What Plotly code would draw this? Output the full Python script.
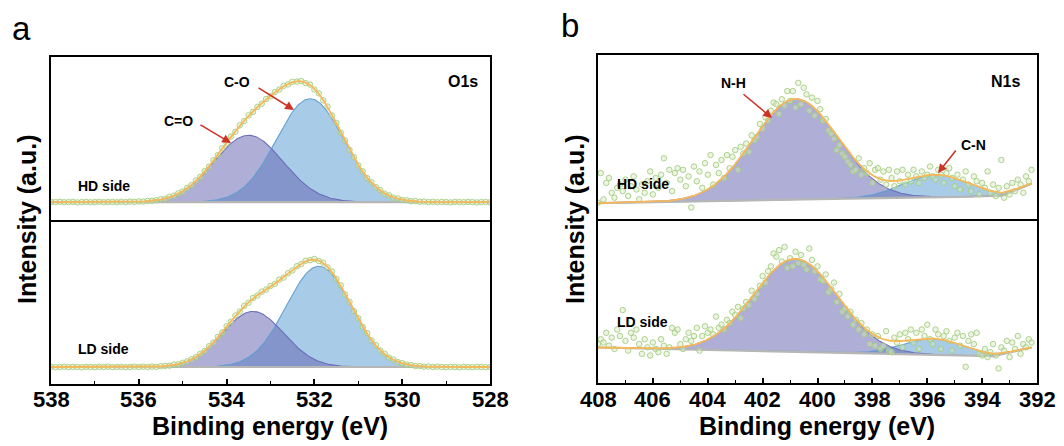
import numpy as np
import plotly.graph_objects as go

# ---------------------------------------------------------------- O1s spectra
# measured intensities, 538.0 eV down to 528.0 eV in 0.1 eV steps
o1s_start, o1s_step = 538.0, -0.1
o1s_hd_counts = [
    0.111, 0.110, 0.112, 0.109, 0.110, 0.111, 0.108, 0.110, 0.111, 0.109,
    0.110, 0.112, 0.109, 0.110, 0.111, 0.109, 0.112, 0.110, 0.113, 0.111,
    0.114, 0.113, 0.117, 0.118, 0.121, 0.127, 0.131, 0.142, 0.149, 0.164,
    0.175, 0.197, 0.214, 0.243, 0.265, 0.300, 0.327, 0.367, 0.398, 0.440,
    0.471, 0.512, 0.541, 0.581, 0.607, 0.642, 0.663, 0.694, 0.713, 0.742,
    0.759, 0.785, 0.800, 0.823, 0.832, 0.848, 0.849, 0.853, 0.840, 0.831,
    0.801, 0.777, 0.734, 0.696, 0.641, 0.595, 0.536, 0.487, 0.430, 0.386,
    0.335, 0.299, 0.257, 0.232, 0.201, 0.183, 0.161, 0.151, 0.137, 0.132,
    0.123, 0.121, 0.115, 0.116, 0.112, 0.113, 0.110, 0.112, 0.109, 0.111,
    0.110, 0.108, 0.111, 0.110, 0.109, 0.111, 0.110, 0.108, 0.110, 0.111,
    0.109,
]
o1s_ld_counts = [
    0.106, 0.104, 0.105, 0.107, 0.104, 0.106, 0.105, 0.103, 0.106, 0.105,
    0.104, 0.106, 0.105, 0.107, 0.104, 0.105, 0.106, 0.104, 0.105, 0.107,
    0.105, 0.107, 0.105, 0.108, 0.106, 0.110, 0.112, 0.113, 0.120, 0.122,
    0.131, 0.139, 0.153, 0.165, 0.187, 0.204, 0.233, 0.256, 0.291, 0.318,
    0.357, 0.385, 0.423, 0.447, 0.482, 0.502, 0.531, 0.546, 0.570, 0.583,
    0.605, 0.618, 0.644, 0.657, 0.684, 0.701, 0.727, 0.740, 0.761, 0.764,
    0.772, 0.759, 0.749, 0.720, 0.694, 0.648, 0.609, 0.553, 0.507, 0.450,
    0.406, 0.352, 0.314, 0.269, 0.240, 0.207, 0.187, 0.163, 0.151, 0.135,
    0.129, 0.120, 0.117, 0.111, 0.111, 0.107, 0.108, 0.105, 0.107, 0.105,
    0.104, 0.106, 0.105, 0.103, 0.106, 0.105, 0.104, 0.106, 0.105, 0.104,
    0.105,
]
# fitted components: centre (eV), FWHM (eV), height
o1s_names = ["C=O", "C-O"]
o1s_hd_centres, o1s_hd_fwhm, o1s_hd_heights = [533.5, 532.1], [1.85, 1.80], [0.410, 0.634]
o1s_ld_centres, o1s_ld_fwhm, o1s_ld_heights = [533.4, 531.9], [1.65, 1.74], [0.343, 0.622]
# background knots (eV, intensity)
o1s_hd_bg_x, o1s_hd_bg_y = [538.0, 528.0], [0.110, 0.110]
o1s_ld_bg_x, o1s_ld_bg_y = [538.0, 528.0], [0.105, 0.105]
o1s_ticks = [538, 536, 534, 532, 530, 528]

# ---------------------------------------------------------------- N1s spectra
# measured intensities, 408.0 eV down to 392.2 eV in 0.1 eV steps
n1s_start, n1s_step = 408.0, -0.1
n1s_hd_counts = [
    0.10, 0.28, 0.12, 0.22, 0.25, 0.16, 0.13, 0.19, 0.21, 0.17,
    0.24, 0.14, 0.20, 0.26, 0.18, 0.12, 0.21, 0.16, 0.23, 0.29,
    0.15, 0.25, 0.19, 0.27, 0.37, 0.22, 0.30, 0.17, 0.28, 0.31,
    0.24, 0.30, 0.20, 0.26, 0.07, 0.32, 0.23, 0.29, 0.19, 0.34,
    0.27, 0.39, 0.21, 0.33, 0.28, 0.36, 0.25, 0.39, 0.31, 0.38,
    0.42, 0.30, 0.44, 0.40, 0.46, 0.41, 0.51, 0.48, 0.50, 0.58,
    0.55, 0.62, 0.60, 0.66, 0.71, 0.70, 0.64, 0.73, 0.69, 0.78,
    0.72, 0.78, 0.68, 0.83, 0.70, 0.80, 0.76, 0.66, 0.74, 0.63,
    0.72, 0.67, 0.60, 0.61, 0.54, 0.52, 0.49, 0.42, 0.45, 0.40,
    0.38, 0.35, 0.33, 0.29, 0.30, 0.37, 0.27, 0.31, 0.28, 0.34,
    0.22, 0.30, 0.31, 0.24, 0.29, 0.21, 0.30, 0.25, 0.20, 0.29,
    0.23, 0.30, 0.21, 0.27, 0.23, 0.30, 0.26, 0.22, 0.29, 0.25,
    0.27, 0.32, 0.26, 0.24, 0.30, 0.27, 0.22, 0.28, 0.31, 0.25,
    0.20, 0.27, 0.18, 0.24, 0.29, 0.21, 0.17, 0.26, 0.23, 0.15,
    0.22, 0.19, 0.29, 0.16, 0.21, 0.14, 0.19, 0.36, 0.13, 0.20,
    0.15, 0.22, 0.17, 0.24, 0.21, 0.16, 0.26, 0.23, 0.30,
]
n1s_ld_counts = [
    0.24, 0.27, 0.25, 0.31, 0.23, 0.28, 0.21, 0.33, 0.29, 0.45,
    0.26, 0.20, 0.31, 0.28, 0.33, 0.24, 0.18, 0.27, 0.22, 0.17,
    0.25, 0.21, 0.19, 0.27, 0.23, 0.18, 0.22, 0.34, 0.31, 0.33,
    0.24, 0.21, 0.27, 0.31, 0.26, 0.29, 0.34, 0.20, 0.29, 0.35,
    0.31, 0.33, 0.30, 0.41, 0.34, 0.36, 0.33, 0.39, 0.37, 0.44,
    0.42, 0.47, 0.40, 0.46, 0.50, 0.48, 0.57, 0.52, 0.55, 0.60,
    0.66, 0.62, 0.69, 0.72, 0.80, 0.78, 0.82, 0.75, 0.84, 0.71,
    0.77, 0.72, 0.81, 0.74, 0.79, 0.73, 0.70, 0.83, 0.76, 0.69,
    0.72, 0.64, 0.63, 0.67, 0.56, 0.58, 0.62, 0.50, 0.55, 0.44,
    0.46, 0.41, 0.44, 0.36, 0.39, 0.33, 0.37, 0.30, 0.33, 0.24,
    0.30, 0.23, 0.29, 0.21, 0.23, 0.32, 0.20, 0.19, 0.28, 0.25,
    0.30, 0.22, 0.31, 0.27, 0.33, 0.25, 0.31, 0.21, 0.33, 0.29,
    0.36, 0.27, 0.24, 0.33, 0.30, 0.21, 0.29, 0.32, 0.26, 0.20,
    0.28, 0.31, 0.23, 0.29, 0.10, 0.26, 0.30, 0.24, 0.31, 0.18,
    0.17, 0.21, 0.16, 0.19, 0.24, 0.17, 0.09, 0.22, 0.20, 0.26,
    0.16, 0.25, 0.21, 0.29, 0.18, 0.24, 0.22, 0.27, 0.25,
]
n1s_names = ["N-H", "C-N"]
n1s_hd_centres, n1s_hd_fwhm, n1s_hd_heights = [400.8, 395.7], [3.64, 2.83], [0.614, 0.135]
n1s_ld_centres, n1s_ld_fwhm, n1s_ld_heights = [400.8, 395.8], [3.60, 2.59], [0.574, 0.098]
n1s_hd_bg_x, n1s_hd_bg_y = [392.2, 393.3, 408.0], [0.215, 0.140, 0.097]
n1s_ld_bg_x, n1s_ld_bg_y = [392.2, 393.6, 408.0], [0.219, 0.166, 0.219]
n1s_ticks = [408, 406, 404, 402, 400, 398, 396, 394, 392]

# ---------------------------------------------------------------- styling
FONT = "Liberation Sans, Arial, sans-serif"
W, H = 1064, 446
COMP_FILL = ["rgba(96,96,175,0.51)", "rgba(110,170,215,0.60)"]
COMP_LINE = ["rgba(105,105,185,0.95)", "rgba(95,158,210,0.95)"]
ENVELOPE = "rgb(246,184,88)"
BASELINE = "rgb(182,182,182)"
ARROW = "rgb(205,52,40)"


def gauss(x, centre, fwhm, height):
    return height * np.exp(-4 * np.log(2) * (x - centre) ** 2 / fwhm ** 2)


def px(xp, yp):
    return xp / W, 1 - yp / H


fig = go.Figure()

# subplot plot areas in pixels: (x0, x1, y_top, y_bottom); the stacked pair
# leaves a 2 px gap so both frame lines fall on the same row
spectra = [
    dict(frame=(51, 490, 57, 220), start=o1s_start, step=o1s_step, counts=o1s_hd_counts,
         centres=o1s_hd_centres, fwhm=o1s_hd_fwhm, heights=o1s_hd_heights,
         bg=(o1s_hd_bg_x, o1s_hd_bg_y), xr=[538, 528], ticks=o1s_ticks, bottom=False),
    dict(frame=(51, 490, 222, 384), start=o1s_start, step=o1s_step, counts=o1s_ld_counts,
         centres=o1s_ld_centres, fwhm=o1s_ld_fwhm, heights=o1s_ld_heights,
         bg=(o1s_ld_bg_x, o1s_ld_bg_y), xr=[538, 528], ticks=o1s_ticks, bottom=True),
    dict(frame=(598, 1037, 55, 219), start=n1s_start, step=n1s_step, counts=n1s_hd_counts,
         centres=n1s_hd_centres, fwhm=n1s_hd_fwhm, heights=n1s_hd_heights,
         bg=(n1s_hd_bg_x, n1s_hd_bg_y), xr=[408, 392], ticks=n1s_ticks, bottom=False),
    dict(frame=(598, 1037, 221, 383), start=n1s_start, step=n1s_step, counts=n1s_ld_counts,
         centres=n1s_ld_centres, fwhm=n1s_ld_fwhm, heights=n1s_ld_heights,
         bg=(n1s_ld_bg_x, n1s_ld_bg_y), xr=[408, 392], ticks=n1s_ticks, bottom=True),
]

annotations = []
layout_axes = {}
for k, s in enumerate(spectra, start=1):
    xa, ya = f"x{k}", f"y{k}"
    n = len(s["counts"])
    x_meas = s["start"] + s["step"] * np.arange(n)
    x_fit = np.linspace(x_meas[0], x_meas[-1], 500)
    bg_x = np.array(s["bg"][0])
    bg_y = np.array(s["bg"][1])
    order = np.argsort(bg_x)
    base = np.interp(x_fit, bg_x[order], bg_y[order])
    comps = [gauss(x_fit, c, w, h) for c, w, h in zip(s["centres"], s["fwhm"], s["heights"])]

    # component areas (second component first so the first sits on top)
    for i in (1, 0):
        top = base + comps[i]
        fig.add_trace(go.Scatter(
            x=np.concatenate([x_fit, x_fit[::-1]]),
            y=np.concatenate([top, base[::-1]]),
            fill="toself", fillcolor=COMP_FILL[i], mode="lines",
            line=dict(width=0), xaxis=xa, yaxis=ya, hoverinfo="skip"))
    for i in (1, 0):
        fig.add_trace(go.Scatter(
            x=x_fit, y=base + comps[i], mode="lines",
            line=dict(color=COMP_LINE[i], width=1.1), xaxis=xa, yaxis=ya))
    fig.add_trace(go.Scatter(x=x_fit, y=base, mode="lines",
                             line=dict(color=BASELINE, width=2.2), xaxis=xa, yaxis=ya))
    fig.add_trace(go.Scatter(
        x=x_meas, y=s["counts"], mode="markers",
        marker=dict(symbol="circle", size=5.5, color="rgba(214,232,190,0.45)",
                    line=dict(color="rgba(160,203,125,0.85)", width=1)),
        xaxis=xa, yaxis=ya))
    fig.add_trace(go.Scatter(x=x_fit, y=base + comps[0] + comps[1], mode="lines",
                             line=dict(color=ENVELOPE, width=1.8), xaxis=xa, yaxis=ya))

    x0, x1, yt, yb = s["frame"]
    xaxis = dict(domain=[x0 / W, x1 / W], range=s["xr"], anchor=ya, automargin=False,
                 showline=True, linecolor="black", linewidth=2, mirror=True,
                 showgrid=False, zeroline=False, showticklabels=False)
    if s["bottom"]:
        xaxis.update(tickmode="array", tickvals=s["ticks"],
                     ticks="inside", ticklen=5, tickwidth=1.5, tickcolor="black",
                     minor=dict(dtick=1, tick0=s["ticks"][-1], ticks="inside", ticklen=3,
                                tickwidth=1.2, tickcolor="black"))
        # tick labels placed just under the frame
        for v in s["ticks"]:
            annotations.append(dict(
                x=v, y=1 - 399 / H, xref=xa, yref="paper", text=str(v), showarrow=False,
                xanchor="center", yanchor="middle", borderpad=0,
                font=dict(family=FONT, size=22, color="black", weight="bold")))
    else:
        xaxis.update(ticks="")
    yaxis = dict(domain=[1 - yb / H, 1 - yt / H], range=[0, 1], anchor=xa, automargin=False,
                 showline=True, linecolor="black", linewidth=2, mirror=True,
                 showgrid=False, zeroline=False, showticklabels=False, ticks="")
    suffix = "" if k == 1 else str(k)
    layout_axes["xaxis" + suffix] = xaxis
    layout_axes["yaxis" + suffix] = yaxis


def text(xp, yp, s, size, bold=True, angle=0):
    x, y = px(xp, yp)
    annotations.append(dict(
        x=x, y=y, xref="paper", yref="paper", text=s, showarrow=False,
        textangle=angle, xanchor="center", yanchor="middle", borderpad=0,
        font=dict(family=FONT, size=size, color="black",
                  weight="bold" if bold else "normal")))


def arrow(tail, head):
    x, y = px(*head)
    annotations.append(dict(
        x=x, y=y, xref="paper", yref="paper", ax=tail[0] - head[0], ay=tail[1] - head[1],
        text="", showarrow=True, arrowhead=2, arrowsize=1.1, arrowwidth=1.6,
        arrowcolor=ARROW, standoff=0, startstandoff=0))


# panel letters
text(21, 29, "a", 33, bold=False)
text(570, 26, "b", 33, bold=False)
# axis titles
for cx in (270, 817):
    text(cx, 426, "Binding energy (eV)", 25)
text(27, 220, "Intensity (a.u.)", 25, angle=-90)
text(575, 220, "Intensity (a.u.)", 25, angle=-90)
# core level names and sample sides
text(463, 82, "O1s", 16)
text(1005, 82, "N1s", 16)
text(104, 186, "HD side", 14)
text(103, 349, "LD side", 14)
text(643, 184, "HD side", 14)
text(642, 322, "LD side", 14)
# component labels with pointers
text(178, 121, "C=O", 14)
arrow((199, 124), (231, 143))
text(237, 82, "C-O", 14)
arrow((257, 87), (294, 110))
text(733, 83, "N-H", 14)
arrow((742, 93), (772, 118))
text(973, 145, "C-N", 14)
arrow((957, 149), (938, 173))

fig.update_layout(
    width=W, height=H, margin=dict(l=0, r=0, t=0, b=0, autoexpand=False),
    paper_bgcolor="white", plot_bgcolor="white", showlegend=False,
    annotations=annotations, **layout_axes)

fig.write_html("out.html")
